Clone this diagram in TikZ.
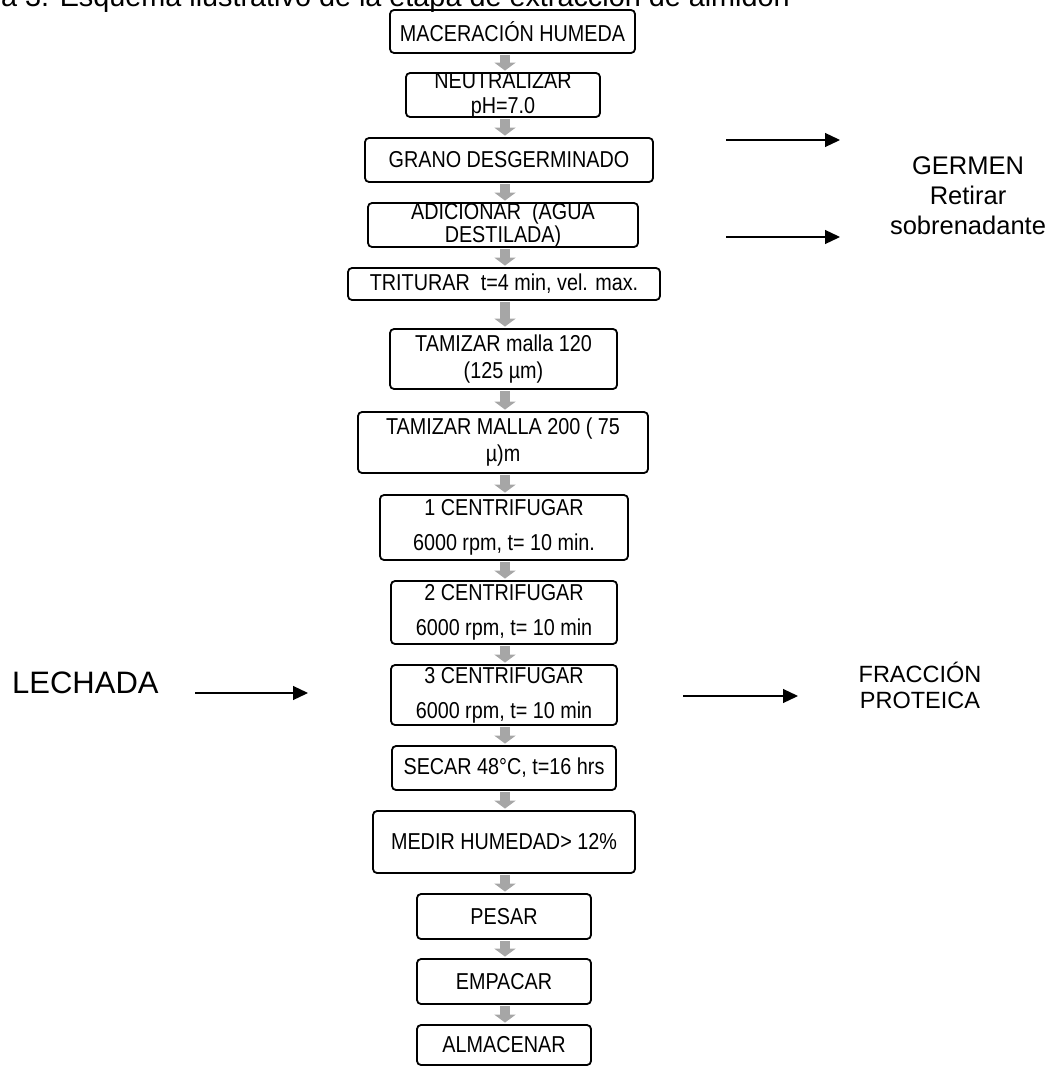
\documentclass[tikz,border=0pt]{standalone}
\usepackage{fontspec}
\setmainfont{Liberation Sans}
\newfontfamily\narrowfont[FakeStretch=0.86]{Liberation Sans}
\usetikzlibrary{arrows.meta}
\definecolor{flowgray}{HTML}{A6A6A6}
\tikzset{
  procbox/.style={draw=black, line width=1.8pt, rounded corners=4pt, inner xsep=4pt, inner ysep=-12pt, align=center, font=\narrowfont\fontsize{23}{27}\selectfont},
  flowarrow/.style={draw=flowgray, line width=10pt, -{Triangle[length=8pt,width=21pt]}},
  sidearrow/.style={draw=black, line width=1.2pt, -{Triangle[length=15pt,width=14pt]}},
  sidetext/.style={font=\fontsize{25.5}{30}\selectfont, align=center, inner sep=0pt},
}
\begin{document}
\begin{tikzpicture}[x=1pt,y=-1pt]
\useasboundingbox (0,0) rectangle (1052,1067);
\begin{scope}
\clip (0,0) rectangle (1052,1067);
\node[anchor=base east, font=\fontsize{28.8}{32}\selectfont, inner sep=0pt] (title) at (790,7) {Figura 3. Esquema ilustrativo de la etapa de extracción de almidón};
\end{scope}

\node[procbox, minimum width=245pt, minimum height=43pt] (mac) at (512.5,31.5) {MACERACIÓN HUMEDA};
\node[procbox, minimum width=194pt, minimum height=44pt, font=\narrowfont\fontsize{23}{25}\selectfont] (neut) at (503,95) {NEUTRALIZAR\\pH=7.0};
\node[procbox, minimum width=288pt, minimum height=44pt] (grano) at (509,160) {GRANO DESGERMINADO};
\node[procbox, minimum width=270pt, minimum height=44pt, font=\narrowfont\fontsize{23}{20}\selectfont] (adic) at (503,225) {ADICIONAR \ (AGUA\\DESTILADA)};
\node[procbox, minimum width=312pt, minimum height=32pt] (trit) at (504,284) {TRITURAR \ t=4 min, vel. max.};
\node[procbox, minimum width=227pt, minimum height=60pt] (tamA) at (503.5,359) {TAMIZAR malla 120\\(125 µm)};
\node[procbox, minimum width=290pt, minimum height=61pt] (tamB) at (503,442.5) {TAMIZAR MALLA 200 ( 75\\µ)m};
\node[procbox, minimum width=248pt, minimum height=65pt, font=\narrowfont\fontsize{23}{35}\selectfont] (cenA) at (504,527.5) {1 CENTRIFUGAR\\6000 rpm, t= 10 min.};
\node[procbox, minimum width=226pt, minimum height=63pt, font=\narrowfont\fontsize{23}{35}\selectfont] (cenB) at (504,612.5) {2 CENTRIFUGAR\\6000 rpm, t= 10 min};
\node[procbox, minimum width=226pt, minimum height=60pt, font=\narrowfont\fontsize{23}{35}\selectfont] (cenC) at (504,695) {3 CENTRIFUGAR\\6000 rpm, t= 10 min};
\node[procbox, minimum width=224pt, minimum height=44pt] (secar) at (504,768) {SECAR 48°C, t=16 hrs};
\node[procbox, minimum width=262pt, minimum height=62pt] (medir) at (504,842) {MEDIR HUMEDAD> 12\%};
\node[procbox, minimum width=174pt, minimum height=45pt] (pesar) at (504,916.5) {PESAR};
\node[procbox, minimum width=174pt, minimum height=45pt] (empacar) at (504,981.5) {EMPACAR};
\node[procbox, minimum width=174pt, minimum height=40pt] (almac) at (504,1045) {ALMACENAR};

\coordinate (xline) at (505,0);
\foreach \a/\b in {mac/neut, neut/grano, grano/adic, adic/trit, trit/tamA, tamA/tamB, tamB/cenA, cenA/cenB, cenB/cenC, cenC/secar, secar/medir, medir/pesar, pesar/empacar, empacar/almac}{
  \draw[flowarrow] ([yshift=-1.5pt]\a.south -| xline) -- ([yshift=1.5pt]\b.north -| xline);
}

\coordinate (gAs) at (726,140); \coordinate (gAe) at (840,140);
\coordinate (gBs) at (726,237); \coordinate (gBe) at (840,237);
\coordinate (ls) at (195,693); \coordinate (le) at (308,693);
\coordinate (fs) at (683,696); \coordinate (fe) at (798,696);
\draw[sidearrow] (gAs) -- (gAe);
\draw[sidearrow] (gBs) -- (gBe);
\draw[sidearrow] (ls) -- (le);
\draw[sidearrow] (fs) -- (fe);

\node[sidetext] (germen) at (968,196) {GERMEN\\Retirar\\sobrenadante};
\node[anchor=base west, font=\fontsize{31}{36}\selectfont, inner sep=0pt] (lechada) at (12,693) {LECHADA};
\node[font=\fontsize{23.5}{26}\selectfont, align=center, inner sep=0pt] (fraccion) at (920,685) {FRACCIÓN\\PROTEICA};
\end{tikzpicture}
\end{document}
